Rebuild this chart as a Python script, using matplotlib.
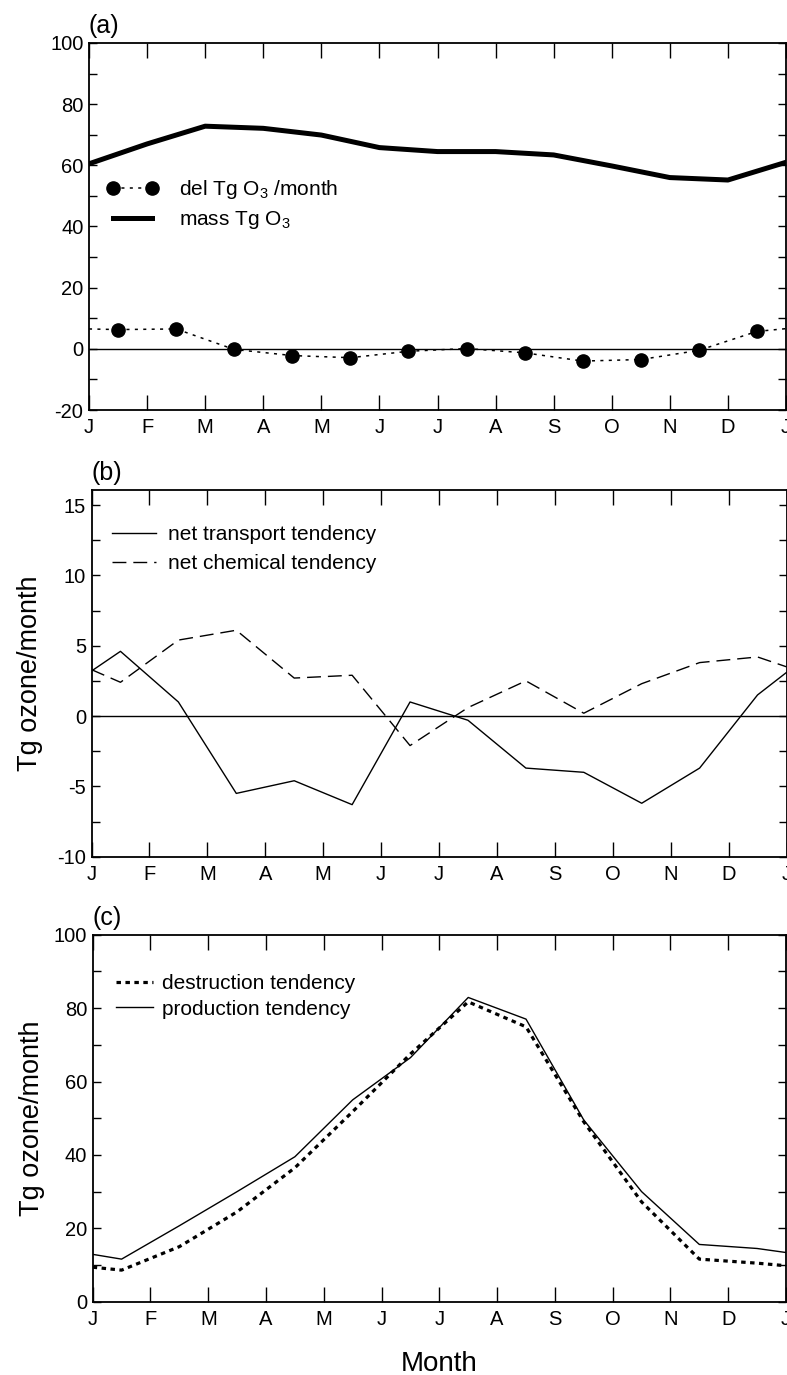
import matplotlib
matplotlib.use("Agg")
import matplotlib.pyplot as plt
from matplotlib.ticker import MultipleLocator

plt.rcParams["font.family"] = ["Liberation Sans", "DejaVu Sans"]
plt.rcParams["mathtext.default"] = "regular"
plt.rcParams["axes.unicode_minus"] = False

month_labels = ["J", "F", "M", "A", "M", "J", "J", "A", "S", "O", "N", "D", "J"]
month_edges = list(range(13))
mid_months = [m + 0.5 for m in range(12)]
line_months = [0.0] + mid_months + [12.0]

# (a) ozone burden at month boundaries and monthly change at mid-month
mass_o3 = [60.5, 67.0, 72.8, 72.1, 69.9, 65.8, 64.5, 64.5, 63.4, 59.8, 56.0, 55.2, 61.0]
del_o3 = [6.3, 6.5, -0.2, -2.2, -2.9, -0.8, 0.1, -1.3, -4.0, -3.5, -0.5, 5.7]
del_o3_edges = [6.5, 6.6]

# (b) tendencies, Jan 1 / mid-month / Dec 31
transport = [3.2, 4.6, 1.0, -5.5, -4.6, -6.3, 1.0, -0.3, -3.7, -4.0, -6.2, -3.7, 1.5, 3.1]
chemical = [3.3, 2.4, 5.4, 6.1, 2.7, 2.9, -2.1, 0.6, 2.5, 0.2, 2.3, 3.8, 4.2, 3.5]

# (c) production and destruction
production = [12.9, 11.6, 20.7, 30.0, 39.5, 55.0, 66.5, 82.9, 77.0, 49.5, 30.0, 15.6, 14.5, 13.4]
destruction = [9.4, 8.6, 15.0, 24.5, 36.5, 51.8, 67.5, 81.7, 74.9, 49.0, 27.2, 11.6, 10.5, 9.8]

W, H = 787, 1375
fig = plt.figure(figsize=(W / 100, H / 100), dpi=100)


def make_axes(left, right, top, bottom):
    return fig.add_axes([left / W, 1 - bottom / H, (right - left) / W, (bottom - top) / H])


def style_axes(ax, major, minor, ylim, tag):
    ax.set_xlim(0, 12)
    ax.set_ylim(*ylim)
    ax.set_xticks(month_edges)
    ax.set_xticklabels(month_labels)
    ax.yaxis.set_major_locator(MultipleLocator(major))
    ax.yaxis.set_minor_locator(MultipleLocator(minor))
    ax.tick_params(axis="x", direction="in", top=True, length=11, width=1.0,
                   labelsize=14.5, pad=6)
    ax.tick_params(axis="y", which="both", direction="in", right=True, length=6,
                   width=1.0, labelsize=14.5, pad=4)
    for s in ax.spines.values():
        s.set_linewidth(1.3)
    # panel tag sits about 10 px above the frame
    dy = 10 / (ax.get_position().height * H)
    ax.text(0.0, 1.0 + dy, tag, transform=ax.transAxes, fontsize=18,
            ha="left", va="baseline")


# ---- (a)
ax_a = make_axes(89, 786, 43, 410)
ax_a.axhline(0, color="k", lw=1.0)
ax_a.plot(month_edges, mass_o3, color="k", lw=3.6, solid_joinstyle="round",
          label="mass Tg O$_3$")
dot_ls = (0, (2, 3.5))
ax_a.plot([0, 0.5], [del_o3_edges[0], del_o3[0]], color="k", lw=1.1, ls=dot_ls)
ax_a.plot([11.5, 12], [del_o3[-1], del_o3_edges[1]], color="k", lw=1.1, ls=dot_ls)
ax_a.plot(mid_months, del_o3, color="k", lw=1.1, ls=dot_ls, marker="o",
          markersize=9.5, label="del Tg O$_3$ /month")
style_axes(ax_a, 20, 10, (-20, 100), "(a)")
h, l = ax_a.get_legend_handles_labels()
ax_a.legend(h[::-1], l[::-1], loc="upper left", bbox_to_anchor=(0.025, 0.632),
            frameon=False, fontsize=15, numpoints=2, handlelength=2.5,
            handletextpad=1.0, labelspacing=0.38, borderpad=0, borderaxespad=0)

# ---- (b)
ax_b = make_axes(91.5, 786.5, 490, 856.7)
ax_b.axhline(0, color="k", lw=1.0)
ax_b.plot(line_months, transport, color="k", lw=1.0, label="net transport tendency")
ax_b.plot(line_months, chemical, color="k", lw=1.0, ls=(0, (10, 5)),
          label="net chemical tendency")
style_axes(ax_b, 5, 2.5, (-10, 16.07), "(b)")
ax_b.set_ylabel("Tg ozone/month", fontsize=19.5, labelpad=10)
ax_b.legend(loc="upper left", bbox_to_anchor=(0.03, 0.905), frameon=False,
            fontsize=15, handlelength=2.1, handletextpad=0.55, labelspacing=0.5,
            borderpad=0, borderaxespad=0)

# ---- (c)
ax_c = make_axes(92.7, 786, 934.7, 1301.7)
ax_c.plot(line_months, destruction, color="k", lw=2.3, ls=(0, (1.4, 1.4)),
          label="destruction tendency")
ax_c.plot(line_months, production, color="k", lw=1.0, label="production tendency")
style_axes(ax_c, 20, 10, (0, 100), "(c)")
ax_c.set_ylabel("Tg ozone/month", fontsize=19.5, labelpad=6)
ax_c.set_xlabel("Month", fontsize=20, labelpad=16)
ax_c.legend(loc="upper left", bbox_to_anchor=(0.033, 0.893), frameon=False,
            fontsize=15, handlelength=1.8, handletextpad=0.45, labelspacing=0.32,
            borderpad=0, borderaxespad=0)

fig.savefig("out.png", dpi=100)
